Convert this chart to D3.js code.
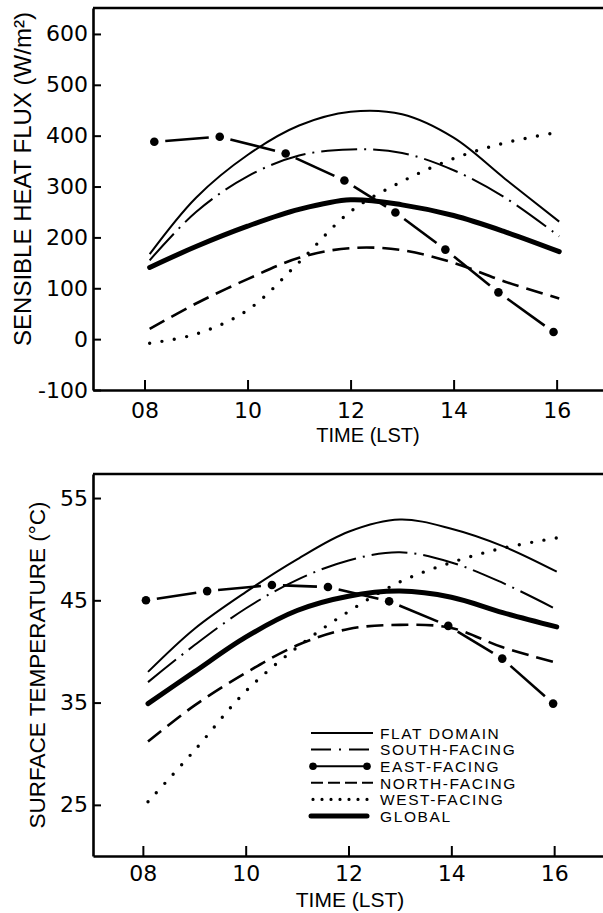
<!DOCTYPE html>
<html>
<head>
<meta charset="utf-8">
<script src="https://cdn.jsdelivr.net/npm/d3@7"></script>
<style>
  body { margin: 0; background: #fff; }
  svg { display: block; }
</style>
</head>
<body>
<svg id="chart" width="603" height="913"></svg>
<script>
// hours (LST) for the smooth curves
const hours = [8.1, 9, 10, 11, 12, 13, 14, 15, 16.05];

// sensible heat flux (W/m2)
const fluxFlat   = [167, 278, 362, 420, 447, 442, 396, 315, 231];
const fluxSouth  = [155, 250, 320, 361, 373, 366, 332, 278, 202];
const fluxNorth  = [20, 70, 118, 160, 179, 175, 150, 113, 80];
const fluxWest   = [-8, 10, 57, 151, 251, 310, 355, 386, 407];
const fluxGlobal = [141, 182, 222, 255, 274, 264, 243, 211, 172];
const fluxEastHours = [8.19, 9.46, 10.74, 11.88, 12.87, 13.84, 14.87, 15.94];
const fluxEast      = [388, 398, 365, 312, 249, 176, 92, 14];

// surface temperature (C)
const tempFlat   = [38, 42.2, 45.8, 49, 51.7, 52.9, 52, 50.3, 47.8];
const tempSouth  = [37, 40.6, 44.2, 47, 48.9, 49.7, 48.7, 46.7, 44.1];
const tempNorth  = [31.2, 34.7, 37.9, 40.6, 42.2, 42.6, 42.3, 40.4, 38.9];
const tempWest   = [25.3, 30.3, 36.1, 40.4, 43.9, 46.8, 48.7, 50.1, 51.1];
const tempGlobal = [34.9, 38, 41.4, 44, 45.4, 45.9, 45.3, 43.8, 42.4];
const tempEastHours = [8.06, 9.25, 10.51, 11.6, 12.79, 13.94, 14.99, 15.98];
const tempEast      = [45.0, 45.9, 46.5, 46.3, 44.9, 42.5, 39.3, 34.9];

const xTicks = [8, 10, 12, 14, 16];
const fluxTicks = [-100, 0, 100, 200, 300, 400, 500, 600];
const tempTicks = [25, 35, 45, 55];
const legendLabels = ["FLAT DOMAIN", "SOUTH-FACING", "EAST-FACING", "NORTH-FACING", "WEST-FACING", "GLOBAL"];

const titleFont = "'Liberation Sans', Arial, sans-serif";
const tickFont = "'DejaVu Sans', sans-serif";

const styles = {
  flat:   { width: 2, dash: null, cap: "butt" },
  south:  { width: 2, dash: "36,7,2,7", cap: "butt" },
  north:  { width: 2.6, dash: "17,8", cap: "butt" },
  west:   { width: 3.4, dash: "0,12.5", cap: "round" },
  global: { width: 5, dash: null, cap: "round" }
};

const svg = d3.select("#chart");

function drawPanel(o) {
  const x = d3.scaleLinear().domain(o.xDomain).range([93, 603]);
  const y = d3.scaleLinear().domain(o.yDomain).range([o.bottom, o.top]);
  const g = svg.append("g");

  const line = d3.line()
    .x((d, i) => x(hours[i]))
    .y(d => y(d))
    .curve(d3.curveCatmullRom.alpha(0.5));

  o.series.forEach(s => {
    const st = styles[s.key];
    g.append("path")
      .attr("d", line(s.values))
      .attr("fill", "none")
      .attr("stroke", "#000")
      .attr("stroke-width", st.width)
      .attr("stroke-dasharray", st.dash)
      .attr("stroke-linecap", st.cap);
  });

  // east-facing: one dash between each pair of dots
  const pts = o.eastHours.map((h, i) => [x(h), y(o.east[i])]);
  const trim = 11;
  for (let i = 0; i < pts.length - 1; i++) {
    const [x1, y1] = pts[i], [x2, y2] = pts[i + 1];
    const len = Math.hypot(x2 - x1, y2 - y1);
    const ux = (x2 - x1) / len, uy = (y2 - y1) / len;
    g.append("line")
      .attr("x1", x1 + ux * trim).attr("y1", y1 + uy * trim)
      .attr("x2", x2 - ux * trim).attr("y2", y2 - uy * trim)
      .attr("stroke", "#000")
      .attr("stroke-width", 2.6);
  }
  g.selectAll(".dot")
    .data(o.east)
    .enter().append("circle")
    .attr("cx", (d, i) => x(o.eastHours[i]))
    .attr("cy", d => y(d))
    .attr("r", 4.3)
    .attr("fill", "#000");

  // frame: top border
  g.append("line")
    .attr("x1", x.range()[0]).attr("x2", x.range()[1])
    .attr("y1", o.top).attr("y2", o.top)
    .attr("stroke", "#000").attr("stroke-width", 2.6);

  const yAxis = g.append("g")
    .attr("transform", "translate(93,0)")
    .call(d3.axisLeft(y).tickValues(o.yTicks).tickSizeInner(-8).tickSizeOuter(0)
      .tickPadding(5).tickFormat(d => String(d)));

  const xAxis = g.append("g")
    .attr("transform", `translate(0,${o.bottom})`)
    .call(d3.axisBottom(x).tickValues(xTicks).tickSizeInner(-10).tickSizeOuter(0)
      .tickPadding(o.xPad).tickFormat(d3.format("02d")));

  [yAxis, xAxis].forEach(a => {
    a.select(".domain").attr("stroke-width", 2.6);
    a.selectAll(".tick line").attr("stroke-width", 2);
    a.selectAll(".tick text")
      .attr("font-family", tickFont)
      .attr("font-size", 22)
      .attr("fill", "#000");
  });

  g.append("text")
    .attr("x", o.xTitleX).attr("y", o.xTitleY)
    .attr("text-anchor", "middle")
    .attr("font-family", titleFont)
    .attr("font-size", o.xTitleSize)
    .text("TIME (LST)");

  g.append("text")
    .attr("transform", `translate(${o.yTitleX},${o.yTitleY}) rotate(-90)`)
    .attr("text-anchor", "middle")
    .attr("font-family", titleFont)
    .attr("font-size", o.yTitleSize)
    .text(o.yTitle);

  return { x, y, g };
}

drawPanel({
  top: 8, bottom: 390,
  xDomain: [7.0, 16.9], yDomain: [-100, 651],
  yTicks: fluxTicks, xPad: 12,
  series: [
    { key: "flat", values: fluxFlat },
    { key: "south", values: fluxSouth },
    { key: "north", values: fluxNorth },
    { key: "west", values: fluxWest },
    { key: "global", values: fluxGlobal }
  ],
  eastHours: fluxEastHours, east: fluxEast,
  xTitleX: 368, xTitleY: 442, xTitleSize: 20,
  yTitleX: 31, yTitleY: 179, yTitleSize: 24,
  yTitle: "SENSIBLE HEAT FLUX (W/m²)"
});

drawPanel({
  top: 474, bottom: 856,
  xDomain: [7.03, 16.95], yDomain: [20, 57.35],
  yTicks: tempTicks, xPad: 9,
  series: [
    { key: "flat", values: tempFlat },
    { key: "south", values: tempSouth },
    { key: "north", values: tempNorth },
    { key: "west", values: tempWest },
    { key: "global", values: tempGlobal }
  ],
  eastHours: tempEastHours, east: tempEast,
  xTitleX: 350, xTitleY: 907, xTitleSize: 21,
  yTitleX: 45, yTitleY: 665, yTitleSize: 22.5,
  yTitle: "SURFACE TEMPERATURE (°C)"
});

// legend
const legend = svg.append("g").attr("transform", "translate(311,733)");
const keys = ["flat", "south", "east", "north", "west", "global"];
keys.forEach((k, i) => {
  const row = legend.append("g").attr("transform", `translate(0,${i * 16.6})`);
  if (k === "east") {
    row.append("line").attr("x1", 2).attr("x2", 56).attr("y1", 0).attr("y2", 0)
      .attr("stroke", "#000").attr("stroke-width", 2);
    row.selectAll("circle").data([2, 56]).enter().append("circle")
      .attr("cx", d => d).attr("cy", 0).attr("r", 3.8).attr("fill", "#000");
  } else {
    const st = styles[k];
    const legendDash = { south: "20,8,2,8", north: "12,5", west: "0,9" }[k] || null;
    row.append("line")
      .attr("x1", k === "west" ? 2 : 0).attr("x2", k === "global" ? 56 : 62)
      .attr("y1", 0).attr("y2", 0)
      .attr("stroke", "#000")
      .attr("stroke-width", k === "global" ? 5 : (k === "west" ? 3.2 : 2))
      .attr("stroke-dasharray", legendDash)
      .attr("stroke-linecap", st.cap);
  }
  row.append("text")
    .attr("x", 69).attr("y", 5.8)
    .attr("font-family", titleFont)
    .attr("font-size", 15.5)
    .attr("letter-spacing", 1.6)
    .text(legendLabels[i]);
});
</script>
</body>
</html>
